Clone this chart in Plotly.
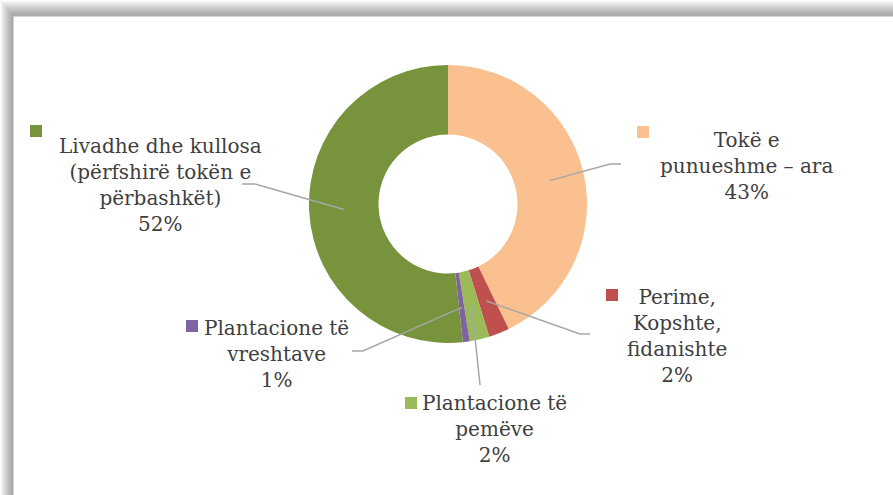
import math
import plotly.graph_objects as go

# ---- data ----
categories = [
    "Tokë e<br>punueshme – ara",
    "Perime,<br>Kopshte,<br>fidanishte",
    "Plantacione të<br>pemëve",
    "Plantacione të<br>vreshtave",
    "Livadhe dhe kullosa<br>(përfshirë tokën e<br>përbashkët)",
]
shares = [42.8, 2.4, 2.3, 0.8, 51.7]
colors = ["#FAC090", "#C0504D", "#9BBB59", "#8064A2", "#77933C"]

W, H = 893, 495
CX, CY, R = 448, 204, 139
HOLE = 0.5
FONT = "DejaVu Serif"
FS = 20

# label layout (pixel positions of text block centres, keys, leader elbows/ends)
label_pos = [(746, 166), (677, 336), (495, 429), (276, 354), (160, 185)]
key_pos = [(637, 126), (606, 289), (405, 397), (186, 320), (30, 125)]
leader_pts = [
    [(610, 164), (621, 164)],
    [(580, 334), (590, 334)],
    [(480, 385)],
    [(363, 351), (352, 351)],
    [(255, 184), (242, 184)],
]

def px(x):
    return x / W

def py(y):
    return 1 - y / H

total = sum(shares)
pcts = [f"{round(v / total * 100)}%" for v in shares]

fig = go.Figure(
    go.Pie(
        labels=[c.replace("<br>", " ") for c in categories],
        values=shares,
        sort=False,
        direction="clockwise",
        rotation=0,
        hole=HOLE,
        marker=dict(colors=colors, line=dict(width=0)),
        textinfo="none",
        hoverinfo="label+percent",
        domain=dict(x=[px(CX - R), px(CX + R)], y=[py(CY + R), py(CY - R)]),
        showlegend=False,
    )
)

shapes = []
# frame with soft shadow (top & left)
N = 16
for k in range(N, 0, -1):
    g = int(165 + 88 * (k / N) ** 1.4)
    col = f"rgb({g},{g},{g})"
    shapes.append(dict(type="rect", xref="paper", yref="paper",
                       x0=px(14 - k * 14 / N), y0=0, x1=1, y1=py(17 - k * 17 / N),
                       fillcolor=col, line=dict(width=0), layer="below"))
shapes.append(dict(type="rect", xref="paper", yref="paper",
                   x0=px(13), y0=0, x1=1, y1=py(16),
                   fillcolor="#d4d4d4", line=dict(width=0), layer="below"))
shapes.append(dict(type="rect", xref="paper", yref="paper",
                   x0=px(14), y0=0, x1=1, y1=py(17),
                   fillcolor="white", line=dict(width=0), layer="below"))

# leader lines from middle of ring at slice mid-angle
rmid = R * (1 + HOLE) / 2
cum = 0
annotations = []
for i, v in enumerate(shares):
    mid = (cum + v / 2) / total * 2 * math.pi
    cum += v
    sx = CX + rmid * math.sin(mid)
    sy = CY - rmid * math.cos(mid)
    pts = [(sx, sy)] + leader_pts[i]
    path = "M " + " L ".join(f"{px(x)},{py(y)}" for x, y in pts)
    shapes.append(dict(type="path", xref="paper", yref="paper", path=path,
                       line=dict(color="#A6A6A6", width=1.5)))
    kx, ky = key_pos[i]
    shapes.append(dict(type="rect", xref="paper", yref="paper",
                       x0=px(kx), x1=px(kx + 12), y0=py(ky + 12), y1=py(ky),
                       fillcolor=colors[i], line=dict(width=0)))
    lx, ly = label_pos[i]
    annotations.append(dict(
        x=px(lx), y=py(ly), xref="paper", yref="paper",
        text=f"{categories[i]}<br>{pcts[i]}", showarrow=False,
        xanchor="center", yanchor="middle", align="center",
        font=dict(family=FONT, size=FS, color="#404040"),
    ))

fig.update_layout(
    width=W, height=H,
    margin=dict(l=0, r=0, t=0, b=0),
    paper_bgcolor="white",
    plot_bgcolor="white",
    shapes=shapes,
    annotations=annotations,
    font=dict(family=FONT),
)

html = fig.to_html(
    full_html=True,
    include_plotlyjs=True,
    config={"displayModeBar": False},
)
html = html.replace(
    "<head>",
    "<head><style>html,body{margin:0;padding:0;overflow:hidden;background:#fff;}</style>",
    1,
)
with open("out.html", "w", encoding="utf-8") as f:
    f.write(html)
